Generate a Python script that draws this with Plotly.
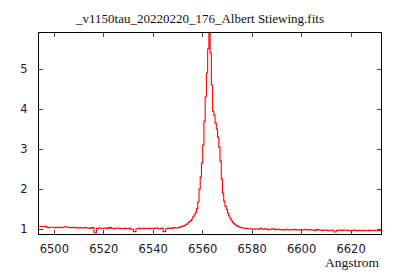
import numpy as np
import plotly.graph_objects as go

# Segment wavelength grids (Angstrom)
wl_blue = np.arange(6494, 6551, 1.0)        # 57 points
wl_line = np.arange(6550.5, 6576.5, 0.5)    # 52 points
wl_red = np.arange(6577, 6633, 1.0)         # 56 points

flux_blue = [
    1.07, 1.06, 1.07, 1.04, 1.05, 1.05, 1.04, 1.05, 1.04, 1.05,
    1.06, 1.05, 1.04, 1.04, 1.05, 1.03, 1.04, 1.03, 1.04, 1.03,
    1.02, 1.04, 0.91, 1.02, 1.03, 1.01, 1.03, 1.02, 1.04, 1.02,
    1.01, 1.03, 1.02, 1.01, 1.02, 1.01, 1.02, 1.00, 0.94, 1.01,
    1.02, 1.01, 1.02, 1.01, 1.02, 1.01, 1.02, 1.03, 1.01, 1.02,
    0.94, 1.01, 1.03, 1.02, 1.04, 1.03, 1.04,
]
flux_line = [
    1.05, 1.06, 1.07, 1.08, 1.09, 1.11, 1.13, 1.16, 1.19, 1.21,
    1.25, 1.31, 1.36, 1.42, 1.52, 1.68, 2.00, 2.30, 2.65, 3.10,
    3.70, 4.30, 4.90, 5.50, 5.95, 5.40, 4.60, 3.95, 3.85, 3.65,
    3.50, 3.30, 3.05, 2.70, 2.25, 1.90, 1.70, 1.57, 1.50, 1.40,
    1.33, 1.26, 1.21, 1.17, 1.14, 1.11, 1.09, 1.07, 1.06, 1.05,
    1.04, 1.03,
]
flux_red = [
    1.02, 1.01, 1.01, 1.00, 1.01, 1.00, 1.02, 1.00, 1.01, 0.99,
    1.00, 1.01, 0.99, 1.00, 0.99, 0.98, 1.00, 0.99, 0.98, 1.00,
    0.99, 0.98, 0.99, 0.98, 1.00, 0.98, 0.99, 0.98, 0.97, 0.99,
    0.98, 0.97, 0.98, 0.97, 0.96, 0.98, 0.93, 0.97, 0.98, 0.97,
    0.98, 0.97, 0.96, 0.97, 0.98, 0.96, 0.97, 0.96, 0.97, 0.96,
    0.97, 0.96, 0.97, 0.96, 0.97, 1.00,
]

x_ticks = [6500, 6520, 6540, 6560, 6580, 6600, 6620]
y_ticks = [1, 2, 3, 4, 5]
title_text = "_v1150tau_20220220_176_Albert Stiewing.fits"
x_label = "Angstrom"

wl = np.concatenate([wl_blue, wl_line, wl_red])
flux = list(flux_blue) + list(flux_line) + list(flux_red)

fig = go.Figure()
fig.add_trace(go.Scatter(x=wl, y=flux, mode="lines", line=dict(color="#ff0000", width=1.1, shape="hv"),
                         showlegend=False, hoverinfo="skip"))

tickfont = dict(family="DejaVu Sans", size=11.5, color="#222222")
fig.update_layout(
    width=400, height=280,
    margin=dict(l=39, r=19, t=33, b=46),
    paper_bgcolor="white", plot_bgcolor="white",
    title=dict(text=title_text, x=0.5, xanchor="center", y=1 - 18 / 280, yanchor="middle",
               font=dict(family="Liberation Serif", size=13, color="#111111")),
    xaxis=dict(range=[6493.8, 6632.1], tickvals=x_ticks, ticks="inside", ticklen=4,
               showline=True, linecolor="black", linewidth=1, mirror="ticks", showgrid=False,
               zeroline=False, tickfont=tickfont, ticklabelstandoff=4),
    yaxis=dict(range=[0.88, 5.9], tickvals=y_ticks, ticks="inside", ticklen=4,
               showline=True, linecolor="black", linewidth=1, mirror="ticks", showgrid=False,
               zeroline=False, tickfont=tickfont, ticklabelstandoff=8),
    annotations=[dict(text=x_label, x=1, xref="paper", xanchor="right",
                      y=-(262 - 234) / (280 - 33 - 46), yref="paper", yanchor="middle",
                      showarrow=False, font=dict(family="Liberation Serif", size=13.5, color="#111111"))],
)
fig.write_html("out.html")
